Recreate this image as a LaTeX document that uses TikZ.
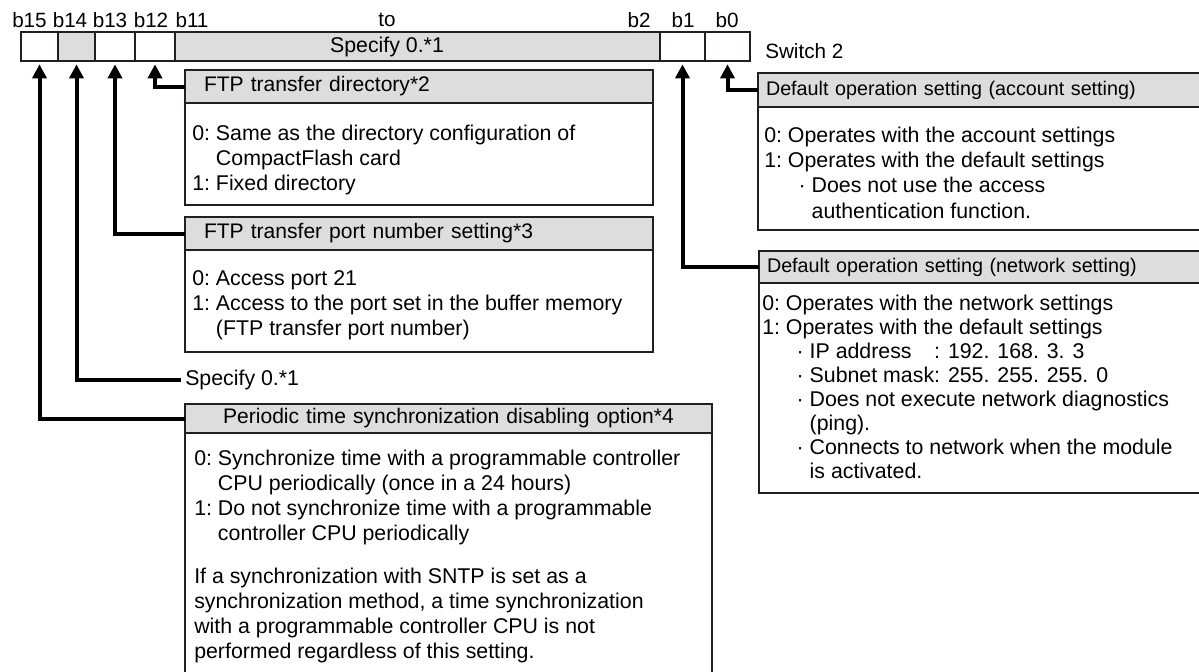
\documentclass[tikz,border=0pt]{standalone}
\usepackage{fontspec}
\setmainfont{Liberation Sans}
\usepackage{xcolor}
\usepackage{tikz}
\usetikzlibrary{arrows.meta, positioning}

\definecolor{headgray}{RGB}{221,221,222}
\definecolor{linegray}{RGB}{35,31,32}
\newcommand{\bul}{\hspace{8pt}·\ }
\newcommand{\bulcont}{\hspace{8pt}\phantom{·\ }}

\begin{document}
\begin{tikzpicture}[x=0.75pt, y=-0.75pt,
    cell/.style={draw=linegray, line width=0.9pt, minimum height=21.75pt, inner sep=0pt, outer sep=0pt},
    bitlbl/.style={font=\fontsize{15.5}{18}\selectfont, inner sep=0pt},
    head/.style={draw=linegray, fill=headgray, line width=0.9pt, anchor=north west, inner ysep=0pt, outer sep=0pt, font=\fontsize{15.8}{18}\selectfont},
    body/.style={draw=linegray, line width=0.9pt, anchor=north west, inner sep=0pt, outer sep=0pt},
    bodytxt/.style={anchor=base west, inner sep=0pt, font=\fontsize{16}{18.75}\selectfont},
    conn/.style={line width=3pt, -{Triangle[length=10.5pt, width=10.5pt]}, shorten >=2.5pt}]
    \useasboundingbox (0,0) rectangle (1199,671);
    \clip (0,0) rectangle (1199,671);

    % Register, b15 to b0
    \node[cell, minimum width=27.75pt] (b15) at (39.5,46.5) {};
    \node[cell, fill=headgray, minimum width=27.75pt, right=0pt of b15] (b14) {};
    \node[cell, minimum width=30pt, right=0pt of b14] (b13) {};
    \node[cell, minimum width=30pt, right=0pt of b13] (b12) {};
    \node[cell, fill=headgray, minimum width=363.75pt, right=0pt of b12] (b11) {};
    \node[cell, minimum width=33.75pt, right=0pt of b11] (b1) {};
    \node[cell, minimum width=33.75pt, right=0pt of b1] (b0) {};
    \node[bitlbl, font=\fontsize{16}{18}\selectfont] (spec) at (387,47) {Specify 0.*1};
    \node[bitlbl, anchor=west] (sw) at (765,51) {Switch 2};

    % Bit numbers
    \node[bitlbl] (l15) at (29.5,20) {b15};
    \node[bitlbl] (l14) at (70,20) {b14};
    \node[bitlbl] (l13) at (110,20) {b13};
    \node[bitlbl] (l12) at (151,20) {b12};
    \node[bitlbl] (l11) at (192,20) {b11};
    \node[bitlbl] (lto) at (387,20) {to};
    \node[bitlbl] (l2) at (639,20) {b2};
    \node[bitlbl] (l1) at (683,20) {b1};
    \node[bitlbl] (l0) at (727,20) {b0};

    % b12: FTP transfer directory
    \node[head, minimum height=24.75pt, inner xsep=14.25pt, text width=322.5pt, align=left] (dirhead) at (185,70) {FTP transfer directory*2};
    \node[body, minimum width=351pt, minimum height=76.5pt] (dirbody) at (dirhead.south west) {};
    \node[bodytxt] (dirtxt) at (192,140) {\begin{tabular}[t]{@{}l@{\ }l@{}}
        0: & Same as the directory configuration of\\
           & CompactFlash card\\
        1: & Fixed directory
    \end{tabular}};

    % b13: FTP transfer port number
    \node[head, minimum height=24.75pt, inner xsep=14.25pt, text width=322.5pt, align=left] (porthead) at (185,217) {FTP transfer port number setting*3};
    \node[body, minimum width=351pt, minimum height=76.5pt] (portbody) at (porthead.south west) {};
    \node[bodytxt] (porttxt) at (192,285) {\begin{tabular}[t]{@{}l@{\ }l@{}}
        0: & Access port 21\\
        1: & Access to the port set in the buffer memory\\
           & (FTP transfer port number)
    \end{tabular}};

    % b14
    \node[bitlbl, anchor=west, inner sep=3pt, font=\fontsize{16}{18}\selectfont] (spec14) at (181,380) {Specify 0.*1};

    % b15: periodic time synchronization
    \node[head, minimum height=21.75pt, inner xsep=0pt, text width=395.25pt, align=center] (perhead) at (185,404) {Periodic time synchronization disabling option*4};
    \node[body, minimum width=395.25pt, minimum height=184pt] (perbody) at (perhead.south west) {};
    \node[bodytxt] (pertxt) at (194,465) {\begin{tabular}[t]{@{}l@{\ }l@{}}
        0: & Synchronize time with a programmable controller\\
           & CPU periodically (once in a 24 hours)\\
        1: & Do not synchronize time with a programmable\\
           & controller CPU periodically\\[14pt]
        \multicolumn{2}{@{}l@{}}{If a synchronization with SNTP is set as a}\\
        \multicolumn{2}{@{}l@{}}{synchronization method, a time synchronization}\\
        \multicolumn{2}{@{}l@{}}{with a programmable controller CPU is not}\\
        \multicolumn{2}{@{}l@{}}{performed regardless of this setting.}
    \end{tabular}};

    % b0: account setting
    \node[head, minimum height=25.5pt, inner xsep=6pt, text width=333pt, align=left, font=\fontsize{14.8}{18}\selectfont] (acchead) at (758,73) {Default operation setting (account setting)};
    \node[body, minimum width=345pt, minimum height=92.25pt] (accbody) at (acchead.south west) {};
    \node[bodytxt, font=\fontsize{16}{19.1}\selectfont] (acctxt) at (764,142) {\begin{tabular}[t]{@{}l@{\ }l@{}}
        0: & Operates with the account settings\\
        1: & Operates with the default settings\\
           & \bul Does not use the access\\
           & \bulcont authentication function.
    \end{tabular}};

    % b1: network setting
    \node[head, minimum height=24pt, inner xsep=6pt, text width=333pt, align=left, font=\fontsize{14.8}{18}\selectfont] (nethead) at (759,251) {Default operation setting (network setting)};
    \node[body, minimum width=345pt, minimum height=157.5pt] (netbody) at (nethead.south west) {};
    \node[bodytxt, font=\fontsize{16}{18.1}\selectfont] (nettxt) at (762,310) {\begin{tabular}[t]{@{}l@{\ }l@{}}
        0: & Operates with the network settings\\
        1: & Operates with the default settings\\
           & \bul\rlap{IP address}\phantom{Subnet mask}: 192. 168. 3. 3\\
           & \bul Subnet mask: 255. 255. 255. 0\\
           & \bul Does not execute network diagnostics\\
           & \bulcont (ping).\\
           & \bul Connects to network when the module\\
           & \bulcont is activated.
    \end{tabular}};

    % Arrows to the bits
    \draw[conn] (dirhead.west) -| (b12.south);
    \draw[conn] (porthead.west) -| (b13.south);
    \draw[conn] (spec14.west) -| (b14.south);
    \draw[conn] (perhead.west) -| (b15.south);
    \draw[conn] (acchead.west) -| (b0.south);
    \draw[conn] (nethead.west) -| (b1.south);
\end{tikzpicture}
\end{document}
